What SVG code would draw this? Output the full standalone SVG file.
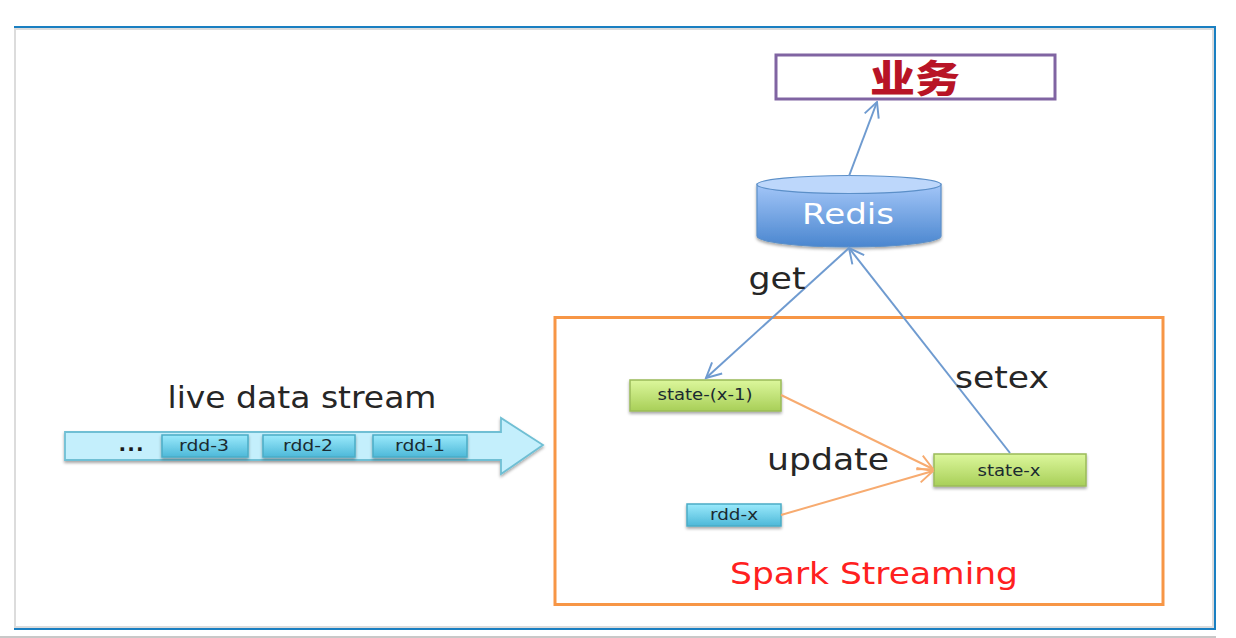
<svg xmlns="http://www.w3.org/2000/svg" width="1236" height="638" viewBox="0 0 1236 638">
<style>
text{font-family:"DejaVu Sans","Noto Sans",sans-serif;text-anchor:middle}
.lbl{font-size:31px;fill:#262626}
.sm{font-size:16px;fill:#1a2a30}
.blue{fill:none;stroke:#6f9bd0;stroke-width:2}
.org{fill:none;stroke:#f7ab70;stroke-width:2}
.green{fill:url(#g);stroke:#9bbb59;stroke-width:1.5;filter:url(#s)}
.cy{fill:url(#c);stroke:#4bacc6;stroke-width:1.5;filter:url(#s)}
</style>
<defs>
<linearGradient id="g" x1="0" y1="0" x2="0" y2="1"><stop offset="0" stop-color="#dcf79c"/><stop offset="1" stop-color="#a8cf58"/></linearGradient>
<linearGradient id="c" x1="0" y1="0" x2="0" y2="1"><stop offset="0" stop-color="#9beafc"/><stop offset="1" stop-color="#4db8d8"/></linearGradient>
<linearGradient id="r" x1="0" y1="0" x2="0" y2="1"><stop offset="0" stop-color="#a3c6f8"/><stop offset="1" stop-color="#4a86cf"/></linearGradient>
<filter id="s" x="-10%" y="-20%" width="120%" height="150%"><feDropShadow dx="0" dy="2" stdDeviation="1.5" flood-color="#000" flood-opacity=".35"/></filter>
<marker id="ab" viewBox="0 0 12 12" refX="11" refY="6" markerWidth="18" markerHeight="18" markerUnits="userSpaceOnUse" orient="auto"><path d="M1 1L11 6L1 11" fill="none" stroke="#6f9bd0" stroke-width="1.3"/></marker>
<marker id="ao" viewBox="0 0 12 12" refX="11" refY="6" markerWidth="18" markerHeight="18" markerUnits="userSpaceOnUse" orient="auto"><path d="M1 1L11 6L1 11" fill="none" stroke="#f7ab70" stroke-width="1.3"/></marker>
</defs>
<rect width="1236" height="638" fill="#fff"/>
<g id="frame">
<rect x="15" y="29" width="1198" height="598" fill="#fff" stroke="#dcdcdc" stroke-width="2"/>
<path d="M14 27H1215V629H14" fill="none" stroke="#1a7fc1" stroke-width="2"/>
<rect x="0" y="636" width="1216" height="2" fill="#c8c8c8"/>
</g>
<g id="spark-box">
<rect x="555" y="317.500" width="608" height="287" fill="none" stroke="#f79646" stroke-width="3"/>
<text x="874" y="584" font-size="31" fill="#ff2020" textLength="288" lengthAdjust="spacingAndGlyphs">Spark Streaming</text>
</g>
<g id="biz">
<rect x="776" y="55" width="279" height="44" fill="#fff" stroke="#8064a2" stroke-width="3"/>
<text x="915" y="92" font-size="38" font-weight="900" fill="#b81426" textLength="90" lengthAdjust="spacingAndGlyphs" style="font-family:'Noto Sans CJK SC','Liberation Sans',sans-serif">业务</text>
</g>
<g id="redis">
<path d="M757 184V236C757 242 798 247 849 247S941 242 941 236V184Z" fill="url(#r)" stroke="#5b8fc8" stroke-width="1.2" filter="url(#s)"/>
<ellipse cx="849" cy="184.500" rx="92" ry="9" fill="#bdd7fb" stroke="#5b8fc8" stroke-width="1.2"/>
<text x="848" y="224" font-size="29" fill="#fff" textLength="92" lengthAdjust="spacingAndGlyphs">Redis</text>
</g>
<g id="stream">
<path d="M65 432H501V418L543 445L501 474V460H65Z" fill="#c4effc" stroke="#6fbfd4" stroke-width="1.8" filter="url(#s)"/>
<text x="131" y="451" font-size="20" font-weight="700" fill="#1a1a1a" textLength="25">...</text>
<text x="302" y="408" class="lbl" textLength="269" lengthAdjust="spacingAndGlyphs">live data stream</text>
</g>
<g id="rdd-3"><rect x="162" y="435" width="86" height="22" class="cy"/><text x="204" y="451" class="sm" textLength="50" lengthAdjust="spacingAndGlyphs">rdd-3</text></g>
<g id="rdd-2"><rect x="263" y="435" width="92" height="22" class="cy"/><text x="308" y="451" class="sm" textLength="50" lengthAdjust="spacingAndGlyphs">rdd-2</text></g>
<g id="rdd-1"><rect x="373" y="435" width="94" height="22" class="cy"/><text x="420" y="451" class="sm" textLength="50" lengthAdjust="spacingAndGlyphs">rdd-1</text></g>
<g id="state-x-1"><rect x="630" y="380" width="151" height="31" class="green"/><text x="705" y="400" class="sm" textLength="95" lengthAdjust="spacingAndGlyphs">state-(x-1)</text></g>
<g id="state-x"><rect x="934" y="454" width="152" height="32" class="green"/><text x="1009" y="476" class="sm" textLength="63" lengthAdjust="spacingAndGlyphs">state-x</text></g>
<g id="rdd-x"><rect x="687" y="504" width="94" height="22" class="cy"/><text x="734" y="520" class="sm" textLength="48" lengthAdjust="spacingAndGlyphs">rdd-x</text></g>
<g id="connectors">
<path class="blue" d="M849 176L877 102" marker-end="url(#ab)"/>
<path class="blue" d="M849 248L706 378" marker-end="url(#ab)"/>
<path class="blue" d="M1010 453L849 248" marker-end="url(#ab)"/>
<path class="org" d="M781 395L933 469" marker-end="url(#ao)"/>
<path class="org" d="M781 515L933 471" marker-end="url(#ao)"/>
</g>
<text x="777" y="289" class="lbl" textLength="57" lengthAdjust="spacingAndGlyphs">get</text>
<text x="1002" y="388" class="lbl" textLength="94" lengthAdjust="spacingAndGlyphs">setex</text>
<text x="828" y="470" class="lbl" textLength="122" lengthAdjust="spacingAndGlyphs">update</text>
</svg>
